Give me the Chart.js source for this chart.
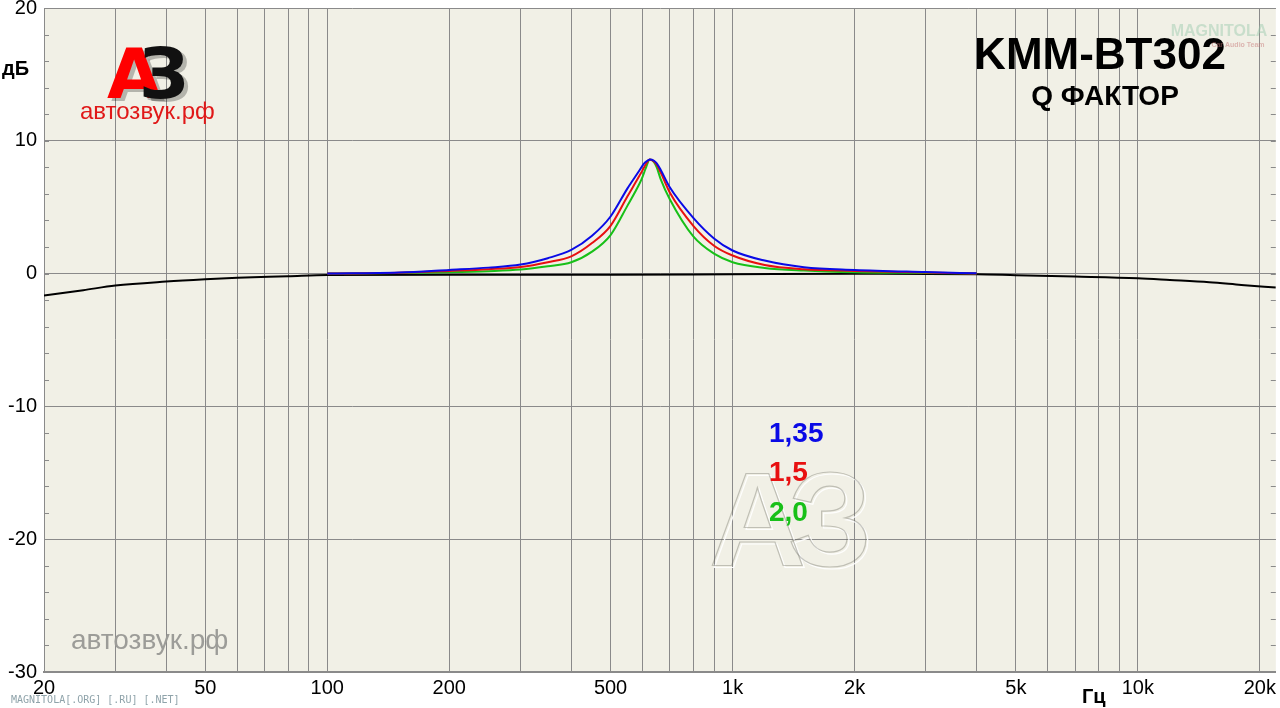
<!DOCTYPE html>
<html>
<head>
<meta charset="utf-8">
<script src="https://cdn.jsdelivr.net/npm/chart.js@4.4.0/dist/chart.umd.min.js"></script>
<style>
html, body { margin: 0; padding: 0; background: #fff; }
#wrap { width: 1280px; height: 708px; }
</style>
</head>
<body>
<div id="wrap"><canvas id="chart" width="1280" height="708"></canvas></div>
<script>
// frequencies (Hz) for the three Q curves
const peakFreqs = [100, 150, 200, 250, 300, 350, 400, 450, 500, 550, 590, 600, 610, 625, 640, 650, 665, 700, 800, 900, 1000, 1200, 1500, 2000, 3000, 4000];
const q135 = [0.0, 0.08, 0.28, 0.45, 0.68, 1.16, 1.78, 2.85, 4.3, 6.4, 7.8, 8.15, 8.4, 8.6, 8.5, 8.3, 7.8, 6.5, 4.2, 2.65, 1.74, 0.98, 0.48, 0.28, 0.12, 0.02];
const q150 = [0.0, 0.06, 0.2, 0.33, 0.5, 0.86, 1.3, 2.3, 3.6, 5.8, 7.4, 7.8, 8.2, 8.6, 8.45, 8.2, 7.6, 6.1, 3.6, 2.1, 1.36, 0.65, 0.33, 0.2, 0.08, 0.01];
const q200 = [0.0, 0.04, 0.1, 0.18, 0.3, 0.55, 0.85, 1.65, 2.9, 5.1, 6.8, 7.3, 7.9, 8.6, 8.4, 8.0, 7.1, 5.6, 2.8, 1.5, 0.86, 0.43, 0.23, 0.1, 0.05, 0.0];

// flat (EQ off) response
const flatFreqs = [20, 25, 30, 40, 50, 60, 80, 100, 200, 500, 1000, 2000, 4000, 5000, 7000, 10000, 12000, 15000, 18000, 21900];
const flatLevels = [-1.65, -1.25, -0.9, -0.6, -0.43, -0.32, -0.2, -0.1, -0.08, -0.08, -0.05, -0.02, -0.05, -0.12, -0.22, -0.35, -0.48, -0.65, -0.85, -1.05];

const xGridValues = [20, 30, 40, 50, 60, 70, 80, 90, 100, 200, 300, 400, 500, 600, 700, 800, 900, 1000,
    2000, 3000, 4000, 5000, 6000, 7000, 8000, 9000, 10000, 20000];
const xTickLabels = { 20: '20', 50: '50', 100: '100', 200: '200', 500: '500', 1000: '1k', 2000: '2k', 5000: '5k', 10000: '10k', 20000: '20k' };
const yTicks = [-30, -20, -10, 0, 10, 20];
const legendLabels = ['1,35', '1,5', '2,0'];
const legendColors = ['#0a0ae6', '#e81010', '#18c018'];

const pts = (xs, ys) => xs.map((x, i) => ({ x: x, y: ys[i] }));

const GRID = '#8a8a8a';

const decor = {
    id: 'decor',
    beforeDraw(chart) {
        const c = chart.ctx, a = chart.chartArea;
        c.save();
        c.fillStyle = '#ffffff';
        c.fillRect(0, 0, chart.width, chart.height);
        c.fillStyle = '#f1f0e6';
        c.fillRect(a.left, a.top, a.right - a.left, a.bottom - a.top);
        c.restore();
    },
    beforeDatasetsDraw(chart) {
        const c = chart.ctx, a = chart.chartArea, ys = chart.scales.y;
        c.save();
        // minor ticks on left and right edges
        c.strokeStyle = GRID;
        c.lineWidth = 1;
        for (let v = -30; v <= 20; v += 2) {
            const y = Math.round(ys.getPixelForValue(v)) + 0.5;
            c.beginPath();
            c.moveTo(a.left, y); c.lineTo(a.left + 5, y);
            c.moveTo(a.right - 5, y); c.lineTo(a.right, y);
            c.stroke();
        }
        // faint watermark in the middle
        c.font = 'bold 134px "Liberation Sans"';
        c.textBaseline = 'alphabetic';
        c.lineWidth = 1.2;
        c.strokeStyle = 'rgba(255,255,255,0.9)';
        c.strokeText('А', 711, 568);
        c.strokeText('З', 790, 568);
        c.strokeStyle = 'rgba(100,100,90,0.35)';
        c.strokeText('А', 709, 566);
        c.strokeText('З', 788, 566);
        // grey site name bottom left
        c.font = '28px "Liberation Sans"';
        c.fillStyle = '#9c9c98';
        c.fillText('автозвук.рф', 71, 649);
        c.restore();
    },
    afterDraw(chart) {
        const c = chart.ctx;
        c.save();
        c.textBaseline = 'middle';
        // axis units
        c.fillStyle = '#000';
        c.font = 'bold 20px "Liberation Sans"';
        c.textAlign = 'left';
        c.fillText('дБ', 2, 69);
        c.fillText('Гц', 1082, 697);
        // titles
        c.textAlign = 'center';
        c.font = 'bold 44px "Liberation Sans"';
        c.fillText('KMM-BT302', 1100, 57);
        c.font = 'bold 28px "Liberation Sans"';
        c.fillText('Q ФАКТОР', 1105, 97);
        // faint magnitola logo
        c.font = 'bold 16px "Liberation Sans Narrow", "Liberation Sans"';
        c.fillStyle = 'rgba(150,200,170,0.45)';
        c.fillText('MAGNITOLA', 1219, 32);
        c.font = 'bold 7px "Liberation Sans"';
        c.fillStyle = 'rgba(200,120,120,0.5)';
        c.fillText('Car Audio Team', 1238, 45);
        // A3 logo top left
        c.textAlign = 'left';
        c.textBaseline = 'alphabetic';
        c.font = 'bold 70px "DejaVu Sans"';
        c.fillStyle = 'rgba(0,0,0,0.25)';
        c.fillText('А', 111, 101);
        c.fillText('З', 143, 101);
        c.fillStyle = '#ff0000';
        c.fillText('А', 107, 98);
        c.fillStyle = '#111';
        c.fillText('З', 139, 98);
        c.font = '24px "Liberation Sans"';
        c.fillStyle = '#e01818';
        c.fillText('автозвук.рф', 80, 119);
        // Q legend
        c.textBaseline = 'middle';
        c.font = 'bold 28px "Liberation Sans"';
        const ly = [434, 473, 513];
        legendLabels.forEach((t, i) => {
            c.fillStyle = legendColors[i];
            c.fillText(t, 769, ly[i]);
        });
        // footer
        c.font = '10px "DejaVu Sans Mono"';
        c.fillStyle = '#8fa3aa';
        c.fillText('MAGNITOLA[.ORG] [.RU] [.NET]', 11, 700);
        c.restore();
    }
};

const line = (label, data, color, order) => ({
    label: label,
    data: data,
    borderColor: color,
    borderWidth: 2,
    pointRadius: 0,
    fill: false,
    cubicInterpolationMode: 'monotone',
    order: order,
});

const ctx = document.getElementById('chart').getContext('2d');
const chart = new Chart(ctx, {
    type: 'line',
    data: {
        datasets: [
            line(legendLabels[0], pts(peakFreqs, q135), legendColors[0], 0),
            line(legendLabels[1], pts(peakFreqs, q150), legendColors[1], 1),
            line(legendLabels[2], pts(peakFreqs, q200), legendColors[2], 2),
            line('flat', pts(flatFreqs, flatLevels), '#000000', 3),
        ],
    },
    options: {
        responsive: false,
        animation: false,
        devicePixelRatio: 1,
        layout: { padding: { top: 8, right: 2, left: 0, bottom: 0 } },
        plugins: { legend: { display: false }, tooltip: { enabled: false } },
        scales: {
            x: {
                type: 'logarithmic',
                min: 20,
                max: 21900,
                afterBuildTicks: (s) => { s.ticks = xGridValues.map(v => ({ value: v })); },
                afterFit: (s) => { s.height = 36; },
                ticks: {
                    autoSkip: false,
                    maxRotation: 0,
                    padding: 4,
                    color: '#000',
                    font: { family: 'Liberation Sans', size: 20 },
                    callback: (v) => xTickLabels[v] || '',
                },
                grid: { color: GRID, lineWidth: 1, drawTicks: false },
                border: { color: GRID, width: 2 },
            },
            y: {
                type: 'linear',
                min: -30,
                max: 20,
                afterBuildTicks: (s) => { s.ticks = yTicks.map(v => ({ value: v })); },
                afterFit: (s) => { s.width = 44; },
                ticks: {
                    padding: 7,
                    color: '#000',
                    font: { family: 'Liberation Sans', size: 20, lineHeight: 0.05 },
                },
                grid: { color: GRID, lineWidth: 1, drawTicks: false },
                border: { color: GRID, width: 1 },
            },
        },
    },
    plugins: [decor],
});
</script>
</body>
</html>
